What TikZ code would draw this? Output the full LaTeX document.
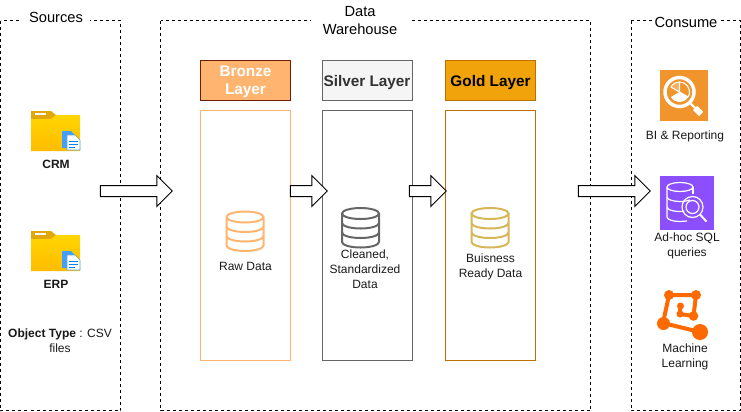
\documentclass[tikz,border=0pt]{standalone}
\usepackage{fontspec}
\setmainfont{Liberation Sans}
\usetikzlibrary{shapes.arrows}
\definecolor{bronzefill}{HTML}{FFB570}
\definecolor{bronzeedge}{HTML}{6F1D00}
\definecolor{silverfill}{HTML}{F5F5F5}
\definecolor{silveredge}{HTML}{666666}
\definecolor{goldfill}{HTML}{F0A30A}
\definecolor{goldedge}{HTML}{BD7000}
\definecolor{golddb}{HTML}{D6B656}
\definecolor{biorange}{HTML}{F0942B}
\definecolor{sqlpurple}{HTML}{8C4FFF}
\definecolor{mlorange}{HTML}{FF6A00}
\definecolor{foldertab}{HTML}{E0A80C}
\definecolor{foldertop}{HTML}{FFD500}
\definecolor{folderlow}{HTML}{FFBC00}
\tikzset{
  zonebox/.style   = {draw,line width=0.75pt,dash pattern=on 2.25pt off 2.25pt},
  zonetext/.style  = {fill=white,inner ysep=1pt,font=\fontsize{11}{13.5}\selectfont,align=center},
  layerhead/.style = {draw,line width=0.75pt,minimum width=67.5pt,minimum height=30pt,inner sep=0pt,align=center,
                      text depth=0pt,font=\fontsize{11.5}{13.5}\selectfont\bfseries},
  layerbody/.style = {draw,line width=0.75pt,minimum width=67.5pt,minimum height=187.5pt,inner sep=0pt},
  caption/.style   = {font=\fontsize{9}{11.25}\selectfont,align=center,text=black!90},
  flowarr/.style   = {draw,shape=single arrow,fill=white,line width=0.75pt,inner xsep=0pt,inner ysep=3.75pt,
                      single arrow head extend=7.5pt,minimum width=22.5pt,single arrow tip angle=90}
}
% folder with a small stack of sheets, #1 = left, #2 = top
\newcommand{\foldericon}[2]{%
  \begin{scope}[shift={(#1,#2)}]
    \fill[foldertab] (0,0) -- (20,0) -- (25,4) -- (25,9) -- (0,9) -- cycle;
    \fill[white] (4,2) rectangle (15,4);
    \shade[top color=foldertop,bottom color=folderlow] (0,8) -- (20,8) -- (25,4) -- (49,4) -- (49,40) -- (0,40) -- cycle;
    \fill[blue!50!cyan!75] (31,20) -- (40,20) -- (46,26) -- (46,37) -- (31,37) -- cycle;
    \fill[white,draw=cyan!50!gray,thin] (36,24) -- (44,24) -- (49,29) -- (49,39) -- (36,39) -- cycle;
    \draw[blue!50!cyan,thin] (38,30) -- (47,30) (38,33) -- (47,33) (38,36) -- (44,36);
  \end{scope}}
% three tier cylinder, #1 = centre x, #2 = top, #3 = colour
\newcommand{\dbicon}[3]{%
  \begin{scope}[shift={(#1,#2)},draw=#3,line width=1.5pt]
    \draw (-18.5,6) arc[start angle=180,end angle=360,x radius=18.5,y radius=5.5]
          -- (18.5,34.5) arc[start angle=0,end angle=180,x radius=18.5,y radius=5.5] -- cycle;
    \draw (-18.5,6) arc[start angle=180,end angle=0,x radius=18.5,y radius=5.5];
    \draw (-18.5,15.5) arc[start angle=180,end angle=0,x radius=18.5,y radius=5.5];
    \draw (-18.5,25) arc[start angle=180,end angle=0,x radius=18.5,y radius=5.5];
  \end{scope}}

\begin{document}
\begin{tikzpicture}[x=0.75pt,y=-0.75pt]
  \useasboundingbox (0,0) rectangle (741,411);

  % zones
  \draw[zonebox] (0.5,20.5) rectangle (120.5,410.5);
  \draw[zonebox] (160.5,20.5) rectangle (590.5,410.5);
  \draw[zonebox] (631,20.5) rectangle (740.5,410.5);
  \node[zonetext,inner xsep=5pt] (srcLabel) at (56,17) {Sources};
  \node[zonetext,inner xsep=9pt] (dwLabel) at (360,21) {Data\\Warehouse};
  \node[zonetext,inner xsep=2pt] (useLabel) at (686,22) {Consume};

  % layers
  \node[layerhead,fill=bronzefill,draw=bronzeedge,text=white,text depth=-3pt] (bronzeHead) at (245.5,80.5) {Bronze\\Layer};
  \node[layerhead,fill=silverfill,draw=silveredge,text=black!80] (silverHead) at (367,80.5) {Silver Layer};
  \node[layerhead,fill=goldfill,draw=goldedge,text=black] (goldHead) at (490.5,80.5) {Gold Layer};
  \node[layerbody,draw=bronzefill] (bronzeBody) at (245.5,235.5) {};
  \node[layerbody,draw=silveredge] (silverBody) at (367,235.5) {};
  \node[layerbody,draw=goldedge] (goldBody) at (490.5,235.5) {};

  \dbicon{245}{211}{bronzefill}
  \dbicon{360.5}{207.5}{silveredge}
  \dbicon{490}{207.5}{golddb}
  \node[caption] (rawText) at (245.5,266) {Raw Data};
  \node[caption] (cleanText) at (365,269) {Cleaned,\\Standardized\\Data};
  \node[caption] (readyText) at (490.5,267) {Buisness\\Ready Data};

  % sources
  \foldericon{31}{111}
  \foldericon{31}{231}
  \node[caption,font=\fontsize{9}{11.25}\selectfont\bfseries] (crmText) at (56,164) {CRM};
  \node[caption,font=\fontsize{9}{11.25}\selectfont\bfseries] (erpText) at (56,284) {ERP};
  \node[caption] (typeText) at (60,341) {\textbf{Object Type} : CSV\\files};

  % consume
  \fill[biorange] (660,70) rectangle (708,121);
  \draw[white,line width=2.6pt] (679.5,92) circle[radius=14.5];
  \fill[white!25!biorange] (679.5,92) -- (670.8,87) arc[start angle=210,end angle=270,radius=10] -- cycle;
  \fill[white] (679.5,92) -- ++(8.7,5) arc[start angle=30,end angle=150,radius=10] -- cycle;
  \draw[white,line width=0.8pt] (679.5,82) -- (679.5,92) (679.5,92) -- (670.8,87)
     (679.5,82) arc[start angle=270,end angle=210,radius=10]
     (679.5,82) arc[start angle=270,end angle=390,radius=10] (679.5,92) -- (688.2,97);
  \draw[white,line width=1.6pt] (690,103) -- (695,108);
  \draw[white,line width=4.5pt] (695,108) -- (701,114);

  \fill[sqlpurple] (660,176) rectangle (714,230);
  \begin{scope}[white,line width=0.9pt]
    \draw (667,187) arc[start angle=180,end angle=-180,x radius=13,y radius=4.5];
    \draw (667,187) -- (667,217) arc[start angle=180,end angle=90,x radius=13,y radius=4.5];
    \draw (680,221.5) -- (687,221) ;
    \draw (693,187) -- (693,194);
    \draw (667,197) arc[start angle=180,end angle=40,x radius=13,y radius=4.5];
    \draw (667,207) arc[start angle=180,end angle=70,x radius=13,y radius=4.5];
    \draw (692.5,207) circle[radius=10.5] (692.5,207) circle[radius=6.5];
    \draw[line width=1.5pt] (700,214.5) -- (706.5,221.5);
  \end{scope}

  \begin{scope}[mlorange]
    \draw[line width=3pt] (669,295) -- (696,295) -- (693.5,316) -- (680,314) -- (680,306)
       (669,295) -- (663,323) -- (700,332);
    \fill (669,295) circle[radius=5] (696,295) circle[radius=5] (693.5,316) circle[radius=4.8]
          (680.5,306) circle[radius=3.5] (680,314) circle[radius=3.5]
          (663.5,323.5) circle[radius=6.5] (700,332) circle[radius=8];
  \end{scope}

  \node[caption] (biText) at (685,136) {BI \& Reporting};
  \node[caption] (sqlText) at (687,246) {Ad-hoc SQL\\queries};
  \node[caption] (mlText) at (685,357) {Machine\\Learning};

  % flow
  \node[flowarr,minimum height=54pt] (srcArrow) at (133.5,191) {};
  \node[flowarr,minimum height=27.75pt] (bronzeArrow) at (306,191) {};
  \node[flowarr,minimum height=27.75pt] (silverArrow) at (425,191) {};
  \node[flowarr,minimum height=54pt] (useArrow) at (611.5,191) {};
\end{tikzpicture}
\end{document}
